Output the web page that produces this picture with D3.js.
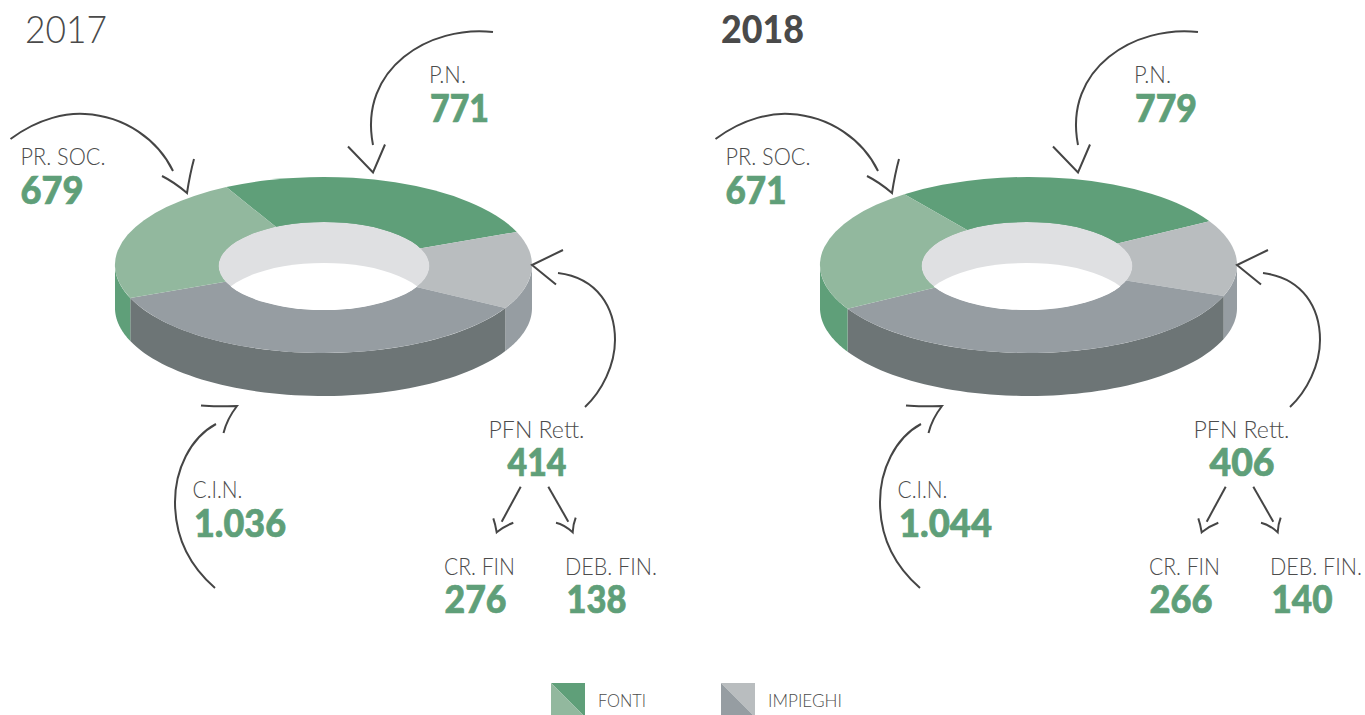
<!DOCTYPE html>
<html><head><meta charset="utf-8">
<script src="https://cdnjs.cloudflare.com/ajax/libs/d3/7.8.5/d3.min.js"></script>
<style>
html,body{margin:0;padding:0;background:#fff;overflow:hidden}
svg{display:block}
text{font-family:Lato,"Open Sans",sans-serif}
.lab{font-size:23px;font-weight:300;fill:#4c4c4c}
.val{font-size:37px;font-weight:900;fill:#5f9f79;stroke:#5f9f79;stroke-width:.7px}
</style></head><body>
<svg id="c" width="1365" height="715"></svg>
<script>
// Data
const years = ["2017", "2018"];
const segments = ["P.N.", "PFN Rett.", "C.I.N.", "PR. SOC."];
const values2017 = [771, 414, 1036, 679];
const values2018 = [779, 406, 1044, 671];
const startAngleDeg = [-27.8, -36.5];
const pfnParts = ["CR. FIN", "DEB. FIN."];
const parts2017 = [276, 138];
const parts2018 = [266, 140];
const legendLabels = ["FONTI", "IMPIEGHI"];

const topColors = ["#5f9f79", "#b9bdbf", "#969da2", "#92b89e"];
const wallColors = ["#5f9f79", "#969da2", "#6d7576", "#5f9f79"];
const ink = "#454545";

// Rendered widths of each string in the reference's narrower typeface
const textWidths = new Map([
  ["P.N.", 37], ["PFN Rett.", 96], ["C.I.N.", 50], ["PR. SOC.", 85], ["CR. FIN", 71], ["DEB. FIN.", 92],
  ["771", 59], ["414", 59], ["1.036", 92], ["679", 63], ["276", 62], ["138", 60],
  ["779", 62], ["406", 65], ["1.044", 93], ["671", 61], ["266", 63], ["140", 61],
  ["2017", 82], ["2018", 83], ["FONTI", 48], ["IMPIEGHI", 74]
]);
const fit = (sel, t) => sel.attr("textLength", textWidths.get(t)).attr("lengthAdjust", "spacingAndGlyphs").text(t);

const svg = d3.select("#c");
const fmt = d3.formatLocale({decimal: ",", thousands: ".", grouping: [3], currency: ["", ""]}).format(",d");

const RX = 208.5, RY = 88, DEPTH = 43, IRX = 105.5, IRY = 44, HOLE = 41;
const holeDx = [0.5, -1.5];

// Hand-drawn arrows, expressed in the 2017 panel's frame
const arrows = [
  "M493,32C430,25 358,68 373,145", "M348,146.5L373,172.5L385,144.5",
  "M558,273C598,278 615,308 615,340C615,365 602,391 585,407", "M563,250L532,265L556,284.5",
  "M216,424C190,438 175,470 175,502C175,540 192,568 215,588", "M201,405.5C215,407 226,406 237,406C230,415 226,423 223.5,433",
  "M10.5,139C40,117 68,113 85,114C125,116 158,140 173,171", "M162,176C172,181 180,187 187,193C189,180 191,170 194,159",
  "M520.7,486.7L501.7,521.7", "M493.3,518.3C495,523 496,528 496.7,532.3C502,528 507,525 513.3,522.7",
  "M548.3,486.7L568.3,521.7", "M556,522.7C562,524 568,528 572.7,532.3C573,527 574,522 575.7,517.7"
];

function panel(i, values, parts) {
  const g = svg.append("g").attr("transform", `translate(${i * 705},0)`);
  const cx = 323.5, cy = 265;

  const pie = d3.pie().sort(null).value(d => d)
    .startAngle(startAngleDeg[i] * Math.PI / 180)
    .endAngle((startAngleDeg[i] + 360) * Math.PI / 180);
  const arcs = pie(values);

  // outer wall: visible part of each slice between 90° and 270° (clockwise from top)
  const line = d3.line();
  const pt = (a, dy) => [cx + RX * Math.sin(a), cy - RY * Math.cos(a) + dy];
  arcs.forEach((d, k) => {
    const lo = Math.max(d.startAngle, Math.PI / 2), hi = Math.min(d.endAngle, 3 * Math.PI / 2);
    if (hi <= lo) return;
    const angs = d3.range(0, 61).map(t => lo + (hi - lo) * t / 60);
    const pts = angs.map(a => pt(a, 0)).concat(angs.slice().reverse().map(a => pt(a, DEPTH)));
    g.append("path").attr("d", line(pts) + "Z").attr("fill", wallColors[k]);
  });

  // top face: unit-circle arcs squashed into an ellipse
  const arc = d3.arc().innerRadius(0).outerRadius(1);
  const top = g.append("g").attr("transform", `translate(${cx},${cy}) scale(${RX},${RY})`);
  top.selectAll("path").data(arcs).join("path")
    .attr("d", arc).attr("fill", (d, k) => topColors[k]);

  // hole with its inner wall
  const id = "hole" + i, hx = cx + holeDx[i], hy = cy + 1;
  g.append("clipPath").attr("id", id).append("ellipse")
    .attr("cx", hx).attr("cy", hy).attr("rx", IRX).attr("ry", IRY);
  const h = g.append("g").attr("clip-path", `url(#${id})`);
  h.append("ellipse").attr("cx", hx).attr("cy", hy).attr("rx", IRX).attr("ry", IRY).attr("fill", "#dfe0e2");
  h.append("ellipse").attr("cx", hx).attr("cy", hy + HOLE).attr("rx", IRX).attr("ry", IRY).attr("fill", "#fff");

  // arrows
  g.selectAll("path.arrow").data(arrows).join("path").attr("class", "arrow")
    .attr("d", d => d).attr("fill", "none").attr("stroke", ink).attr("stroke-width", 2);

  // labels
  fit(g.append("text").attr("x", i ? 16 : 25).attr("y", 43)
    .attr("font-size", 37).attr("font-weight", i ? 900 : 300).attr("fill", "#4a4a4a"), years[i]);

  const L = (t, x, y, anchor) => fit(g.append("text").attr("class", "lab").attr("x", x).attr("y", y).attr("text-anchor", anchor || "start"), t);
  const V = (t, x, y, anchor) => fit(g.append("text").attr("class", "val").attr("x", x).attr("y", y).attr("text-anchor", anchor || "start"), fmt(t));
  L(segments[0], 429, 83); V(values[0], 430, 122);
  L(segments[3], 20.5, 165); V(values[3], 20.5, 204);
  L(segments[2], 192.5, 498); V(values[2], 194, 537);
  L(segments[1], 536.5, 438, "middle"); V(values[1], 537, 476, "middle");
  L(pfnParts[0], 444, 575); V(parts[0], 444.5, 613);
  L(pfnParts[1], 565, 575); V(parts[1], 566.5, 613);
}

panel(0, values2017, parts2017);
panel(1, values2018, parts2018);

// legend
const legendX = [551, 721];
const legendHi = ["#5f9f79", "#b9bdbf"], legendLo = ["#92b89e", "#969da2"];
legendLabels.forEach((t, i) => {
  const x = legendX[i], y = 683, s = 34;
  const g = svg.append("g").attr("transform", `translate(${x},${y})`);
  g.append("path").attr("d", d3.line()([[0,0],[s,0],[s,s]]) + "Z").attr("fill", legendHi[i]);
  g.append("path").attr("d", d3.line()([[0,0],[0,s],[s,s]]) + "Z").attr("fill", legendLo[i]);
  fit(g.append("text").attr("x", 47).attr("y", 24).attr("font-size", 18).attr("font-weight", 300).attr("fill", "#4c4c4c"), t);
});
</script></body></html>
